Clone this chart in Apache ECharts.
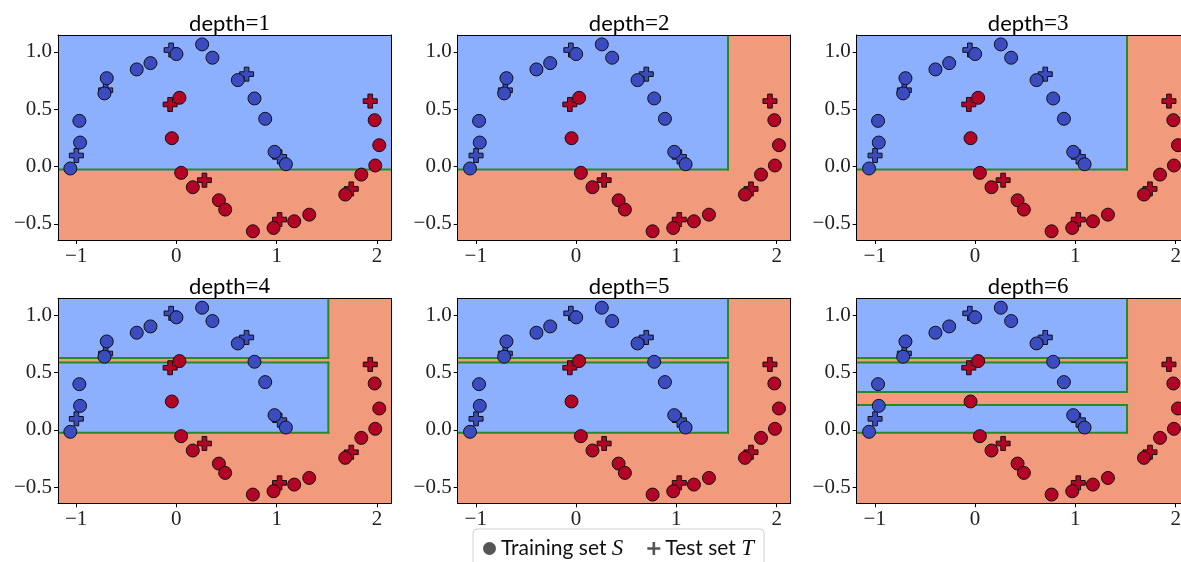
<!DOCTYPE html>
<html>
<head>
<meta charset="utf-8">
<script src="https://cdn.jsdelivr.net/npm/echarts@6/dist/echarts.min.js"></script>
<style>
  html, body { margin: 0; padding: 0; background: #ffffff; }
  #chart { width: 1181px; height: 562px; }
</style>
</head>
<body>
<div id="chart"></div>
<script>
// Two-moons data: training points (circles) and test points (filled plus)
const trainBlue = [
  [-1.057, -0.017], [-0.960, 0.209], [-0.967, 0.398], [-0.717, 0.637], [-0.694, 0.770],
  [-0.395, 0.846], [-0.258, 0.901], [0.001, 0.980], [0.257, 1.064], [0.360, 0.948],
  [0.613, 0.753], [0.779, 0.593], [0.886, 0.416], [0.979, 0.128], [1.092, 0.020]
];
const trainRed = [
  [-0.045, 0.247], [0.031, 0.599], [0.048, -0.055], [0.164, -0.180], [0.424, -0.294],
  [0.487, -0.375], [0.763, -0.564], [0.969, -0.535], [1.175, -0.477], [1.325, -0.419],
  [1.684, -0.244], [1.844, -0.070], [1.983, 0.009], [2.023, 0.186], [1.977, 0.404]
];
const testBlue = [[-0.997, 0.096], [-0.705, 0.665], [-0.052, 1.015], [0.700, 0.805], [1.030, 0.084]];
const testRed = [[-0.062, 0.541], [0.280, -0.119], [1.029, -0.462], [1.744, -0.195], [1.933, 0.570]];

// Axis extents and ticks
const xRange = [-1.18, 2.14];
const yRange = [-0.64, 1.146];
const xTicks = [-1, 0, 1, 2];
const yTicks = [-0.5, 0.0, 0.5, 1.0];

// Tree depths and the blue (class 0) leaf rectangles [x0, x1, y0, y1]; the rest is class 1
const depths = [1, 2, 3, 4, 5, 6];
const blueLeaves = [
  [[-1.18, 2.14, -0.035, 1.146]],
  [[-1.18, 1.525, -0.035, 1.146]],
  [[-1.18, 1.525, -0.035, 1.146]],
  [[-1.18, 1.525, -0.035, 0.595], [-1.18, 1.525, 0.617, 1.146]],
  [[-1.18, 1.525, -0.035, 0.595], [-1.18, 1.525, 0.617, 1.146]],
  [[-1.18, 1.525, -0.035, 0.226], [-1.18, 1.525, 0.322, 0.595], [-1.18, 1.525, 0.617, 1.146]]
];

const C_BLUE_REGION = '#8db0fe';
const C_RED_REGION = '#f29a7c';
const C_BLUE = '#3b4cc0';
const C_RED = '#b40426';
const C_EDGE = '#2a8a1e';
const PLUS = 'path://M1,0L2,0L2,1L3,1L3,2L2,2L2,3L1,3L1,2L0,2L0,1L1,1Z';
const THIN_PLUS = 'path://M1.2,0L1.8,0L1.8,1.2L3,1.2L3,1.8L1.8,1.8L1.8,3L1.2,3L1.2,1.8L0,1.8L0,1.2L1.2,1.2Z';

const SERIF = '"Liberation Serif", "DejaVu Serif", serif';
const SANS = 'Lato, "Liberation Sans", sans-serif';

const colLeft = [58, 457.7, 856.7];
const rowTop = [35, 298.3];
const gw = 333, gh = 205;

const fmtX = v => (v < 0 ? '\u2212' : '') + Math.abs(v);
const fmtY = v => (v < 0 ? '\u2212' : '') + Math.abs(v).toFixed(1);

const grids = [], xAxes = [], yAxes = [], titles = [], series = [];

depths.forEach((d, i) => {
  const left = colLeft[i % 3], top = rowTop[Math.floor(i / 3)];
  grids.push({ left: left, top: top, width: gw, height: gh, show: true,
    outerBoundsMode: 'none', containLabel: false,
    backgroundColor: C_RED_REGION, borderWidth: 0 });
  titles.push({
    text: '{s|depth}{m|=' + d + '}',
    left: left + gw / 2, top: top - 28, textAlign: 'center',
    textStyle: { fontWeight: 'normal', rich: {
      s: { fontFamily: SANS, fontSize: 22, fontWeight: 'normal', color: '#000' },
      m: { fontFamily: SERIF, fontSize: 23, fontWeight: 'normal', color: '#000' }
    } }
  });
});

// main axes (bottom / left) with ticks and labels
depths.forEach((d, i) => {
  xAxes.push({
    type: 'value', gridIndex: i, min: xRange[0], max: xRange[1], position: 'bottom', z: 10,
    axisLine: { show: true, onZero: false, lineStyle: { color: '#000', width: 1 } },
    axisTick: { show: true, customValues: xTicks, length: 4, lineStyle: { color: '#000' } },
    axisLabel: { customValues: xTicks, formatter: fmtX, margin: 6,
      fontFamily: SERIF, fontSize: 21, color: '#222' },
    splitLine: { show: false }
  });
  yAxes.push({
    type: 'value', gridIndex: i, min: yRange[0], max: yRange[1], position: 'left', z: 10,
    axisLine: { show: true, onZero: false, lineStyle: { color: '#000', width: 1 } },
    axisTick: { show: true, customValues: yTicks, length: 4, lineStyle: { color: '#000' } },
    axisLabel: { customValues: yTicks, formatter: fmtY, margin: 6,
      fontFamily: SERIF, fontSize: 21, color: '#222' },
    splitLine: { show: false }
  });
});
// frame axes (top / right), lines only
depths.forEach((d, i) => {
  xAxes.push({
    type: 'value', gridIndex: i, min: xRange[0], max: xRange[1], position: 'top', z: 10,
    axisLine: { show: true, onZero: false, lineStyle: { color: '#000', width: 1 } },
    axisTick: { show: false }, axisLabel: { show: false }, splitLine: { show: false }
  });
  yAxes.push({
    type: 'value', gridIndex: i, min: yRange[0], max: yRange[1], position: 'right', z: 10,
    axisLine: { show: true, onZero: false, lineStyle: { color: '#000', width: 1 } },
    axisTick: { show: false }, axisLabel: { show: false }, splitLine: { show: false }
  });
});

// a blue leaf: filled rectangle, with a green contour on its interior edges
function leafRect(params, api) {
  const vx0 = api.value(0), vx1 = api.value(1), vy0 = api.value(2), vy1 = api.value(3);
  const p0 = api.coord([vx0, vy1]);
  const p1 = api.coord([vx1, vy0]);
  const cs = params.coordSys;
  const x0 = Math.max(p0[0], cs.x), y0 = Math.max(p0[1], cs.y);
  const x1 = Math.min(p1[0], cs.x + cs.width), y1 = Math.min(p1[1], cs.y + cs.height);
  const lw = 2, h = lw / 2;
  const edgeStyle = { stroke: C_EDGE, lineWidth: lw, fill: null };
  const children = [
    { type: 'rect', shape: { x: x0, y: y0, width: x1 - x0, height: y1 - y0 },
      style: { fill: C_BLUE_REGION } }
  ];
  if (vy0 > yRange[0]) children.push({ type: 'line', shape: { x1: x0, y1: y1 - h, x2: x1, y2: y1 - h }, style: edgeStyle });
  if (vy1 < yRange[1]) children.push({ type: 'line', shape: { x1: x0, y1: y0 + h, x2: x1, y2: y0 + h }, style: edgeStyle });
  if (vx1 < xRange[1]) children.push({ type: 'line', shape: { x1: x1 - h, y1: y0, x2: x1 - h, y2: y1 }, style: edgeStyle });
  if (vx0 > xRange[0]) children.push({ type: 'line', shape: { x1: x0 + h, y1: y0, x2: x0 + h, y2: y1 }, style: edgeStyle });
  return { type: 'group', children: children };
}

const pointStyle = (color) => ({ color: color, borderColor: '#111', borderWidth: 1, opacity: 1 });

depths.forEach((d, i) => {
  series.push({
    type: 'custom', name: 'leaves', xAxisIndex: i, yAxisIndex: i, z: 1, silent: true,
    renderItem: leafRect, data: blueLeaves[i], clip: true
  });
  series.push({ type: 'scatter', name: 'Test set', xAxisIndex: i, yAxisIndex: i, z: 3,
    symbol: PLUS, symbolSize: 14, itemStyle: pointStyle(C_BLUE), data: testBlue, silent: true });
  series.push({ type: 'scatter', name: 'Test set', xAxisIndex: i, yAxisIndex: i, z: 3,
    symbol: PLUS, symbolSize: 14, itemStyle: pointStyle(C_RED), data: testRed, silent: true });
  series.push({ type: 'scatter', name: 'Training set', xAxisIndex: i, yAxisIndex: i, z: 4,
    symbol: 'circle', symbolSize: 13, itemStyle: pointStyle(C_BLUE), data: trainBlue, silent: true });
  series.push({ type: 'scatter', name: 'Training set', xAxisIndex: i, yAxisIndex: i, z: 4,
    symbol: 'circle', symbolSize: 13, itemStyle: pointStyle(C_RED), data: trainRed, silent: true });
});

const option = {
  animation: false,
  backgroundColor: '#ffffff',
  title: titles,
  grid: grids,
  xAxis: xAxes,
  yAxis: yAxes,
  legend: {
    left: 473, top: 529,
    padding: [8, 10, 12, 10],
    itemGap: 24, itemWidth: 13, itemHeight: 13,
    backgroundColor: '#ffffff', borderColor: '#d0d0d0', borderWidth: 1, borderRadius: 4,
    selectedMode: false,
    data: [
      { name: 'Training set', icon: 'circle', itemStyle: { color: '#555555', borderWidth: 0 } },
      { name: 'Test set', icon: THIN_PLUS, itemStyle: { color: '#555555', borderWidth: 0 } }
    ],
    formatter: n => n === 'Training set' ? 'Training set {i|S}' : 'Test set {i|T}',
    textStyle: { fontFamily: SANS, fontSize: 21, color: '#111',
      rich: { i: { fontFamily: SERIF, fontStyle: 'italic', fontSize: 23, color: '#111' } } }
  },
  series: series
};

const chart = echarts.init(document.getElementById('chart'), null, { renderer: 'canvas' });
chart.setOption(option);
</script>
</body>
</html>
